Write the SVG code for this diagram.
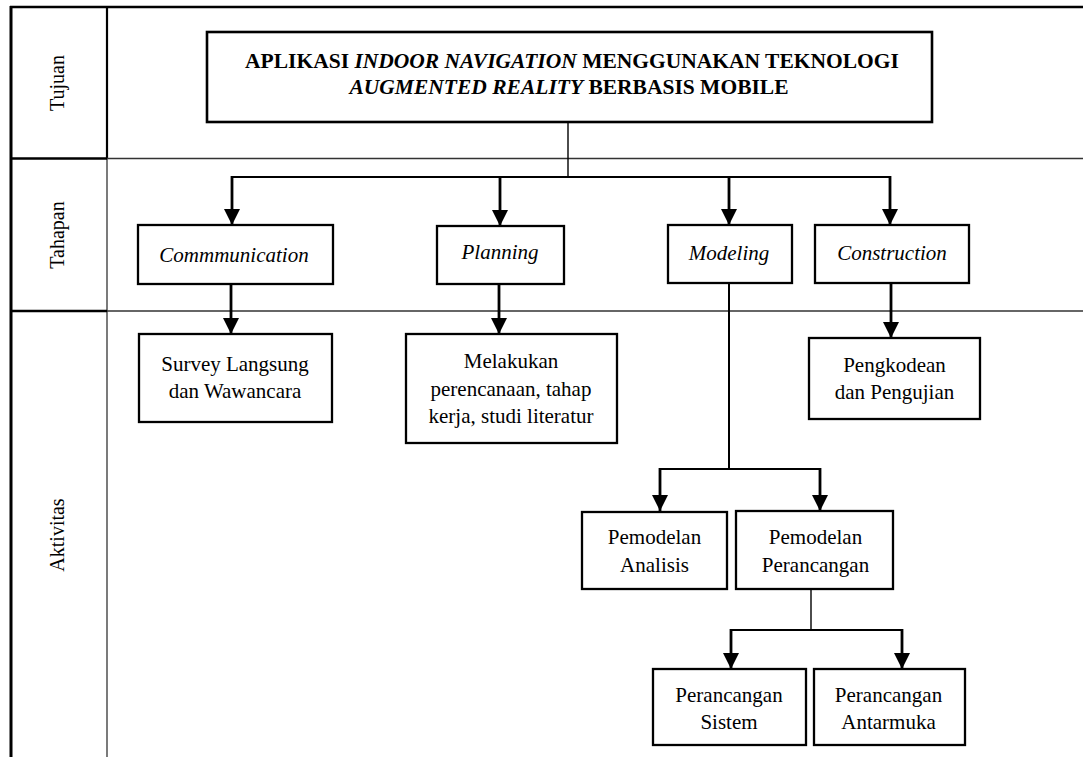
<svg xmlns="http://www.w3.org/2000/svg" width="1083" height="757" viewBox="0 0 1083 757" font-family="'Liberation Serif', Tinos, 'Times New Roman', 'DejaVu Serif', serif">
<style>
  text { font-family: "Liberation Serif", Tinos, "Times New Roman", "DejaVu Serif", serif; font-size: 21px; fill: #000; text-anchor: middle; }
  .lbl { font-size: 20px; }
  .ttl { font-size: 21.5px; }
  .it { font-style: italic; }
  .b { font-weight: bold; }
  .box { fill: #fff; stroke: #000; stroke-width: 2.3; }
  .frame-thick { stroke: #000; stroke-width: 2.6; fill: none; }
  .frame-thin { stroke: #333; stroke-width: 1.3; fill: none; }
  .arrow { stroke: #000; stroke-width: 2.8; fill: none; marker-end: url(#ah); }
  .bus { stroke: #000; stroke-width: 2; fill: none; }
  .thin { stroke: #000; stroke-width: 1.4; fill: none; }
</style>
<defs>
  <marker id="ah" viewBox="0 0 16 16" refX="16" refY="8" markerWidth="16" markerHeight="16" markerUnits="userSpaceOnUse" orient="auto">
    <path d="M0,0 L16,8 L0,16 z" fill="#000"/>
  </marker>
</defs>
<rect x="0" y="0" width="1083" height="757" fill="#fff"/>

<g id="frame">
  <line class="frame-thick" x1="10" y1="7" x2="1083" y2="7"/>
  <line class="frame-thick" x1="11" y1="6" x2="11" y2="757" style="stroke-width:3"/>
  <line class="frame-thick" x1="107" y1="7" x2="107" y2="158.5" style="stroke-width:2.2"/>
  <line class="frame-thin" x1="107" y1="158.5" x2="107" y2="757"/>
  <line class="frame-thick" x1="11" y1="158.5" x2="107" y2="158.5"/>
  <line class="frame-thin" x1="107" y1="158.5" x2="1083" y2="158.5"/>
  <line class="frame-thick" x1="11" y1="311" x2="107" y2="311"/>
  <line class="frame-thin" x1="107" y1="311" x2="1083" y2="311"/>
  <text class="lbl" transform="translate(64,83) rotate(-90)">Tujuan</text>
  <text class="lbl" transform="translate(64,235) rotate(-90)">Tahapan</text>
  <text class="lbl" transform="translate(64,535) rotate(-90)">Aktivitas</text>
</g>

<g id="connectors">
  <line class="thin" x1="568" y1="122" x2="568" y2="177"/>
  <polyline class="bus" points="232,177 890,177"/>
  <line class="arrow" x1="232" y1="176" x2="232" y2="225"/>
  <line class="arrow" x1="500" y1="176" x2="500" y2="226"/>
  <line class="arrow" x1="729" y1="176" x2="729" y2="225"/>
  <line class="arrow" x1="890" y1="176" x2="890" y2="225"/>
  <line class="arrow" x1="231" y1="284" x2="231" y2="334"/>
  <line class="arrow" x1="499" y1="284" x2="499" y2="334"/>
  <line class="arrow" x1="891" y1="283" x2="891" y2="338"/>
  <line class="bus" x1="729" y1="283" x2="729" y2="469"/>
  <line class="bus" x1="660" y1="469" x2="820" y2="469" style="stroke-width:1.8"/>
  <line class="arrow" x1="660" y1="468" x2="660" y2="511"/>
  <line class="arrow" x1="820" y1="468" x2="820" y2="511"/>
  <line class="thin" x1="811" y1="589" x2="811" y2="630"/>
  <line class="bus" x1="731" y1="630" x2="902" y2="630" style="stroke-width:1.8"/>
  <line class="arrow" x1="731" y1="629" x2="731" y2="669"/>
  <line class="arrow" x1="902" y1="629" x2="902" y2="669"/>
</g>

<g id="tujuan">
  <rect class="box" x="207" y="32" width="725" height="90" style="stroke-width:2.6"/>
  <text class="b ttl" x="572" y="68">APLIKASI <tspan class="it">INDOOR NAVIGATION</tspan> MENGGUNAKAN TEKNOLOGI</text>
  <text class="b ttl" x="569" y="93.5"><tspan class="it">AUGMENTED REALITY</tspan> BERBASIS MOBILE</text>
</g>

<g id="communication">
  <rect class="box" x="138" y="225" width="195" height="59"/>
  <text class="it" x="234" y="262">Commmunication</text>
</g>
<g id="planning">
  <rect class="box" x="437" y="226" width="127" height="58"/>
  <text class="it" x="500" y="258.5">Planning</text>
</g>
<g id="modeling">
  <rect class="box" x="668" y="225" width="124" height="58"/>
  <text class="it" x="729" y="260">Modeling</text>
</g>
<g id="construction">
  <rect class="box" x="815" y="225" width="154" height="58"/>
  <text class="it" x="892" y="260">Construction</text>
</g>

<g id="survey">
  <rect class="box" x="139" y="334" width="193" height="88"/>
  <text x="235" y="371">Survey Langsung</text>
  <text x="235" y="398">dan Wawancara</text>
</g>
<g id="melakukan">
  <rect class="box" x="406" y="334" width="211" height="109"/>
  <text x="511" y="367.5">Melakukan</text>
  <text x="511" y="395.5">perencanaan, tahap</text>
  <text x="511" y="423.3">kerja, studi literatur</text>
</g>
<g id="pengkodean">
  <rect class="box" x="809" y="338" width="171" height="81"/>
  <text x="894.5" y="371.7">Pengkodean</text>
  <text x="894.5" y="399.3">dan Pengujian</text>
</g>

<g id="pemodelan-analisis">
  <rect class="box" x="582" y="512" width="145" height="77"/>
  <text x="654.5" y="544">Pemodelan</text>
  <text x="654.5" y="571.7">Analisis</text>
</g>
<g id="pemodelan-perancangan">
  <rect class="box" x="736" y="511" width="157" height="78"/>
  <text x="815.5" y="544">Pemodelan</text>
  <text x="815.5" y="571.7">Perancangan</text>
</g>
<g id="perancangan-sistem">
  <rect class="box" x="653" y="669" width="153" height="76"/>
  <text x="729" y="701.7">Perancangan</text>
  <text x="729" y="729.3">Sistem</text>
</g>
<g id="perancangan-antarmuka">
  <rect class="box" x="814" y="669" width="151" height="76"/>
  <text x="888.5" y="701.7">Perancangan</text>
  <text x="888.5" y="729.3">Antarmuka</text>
</g>
</svg>
